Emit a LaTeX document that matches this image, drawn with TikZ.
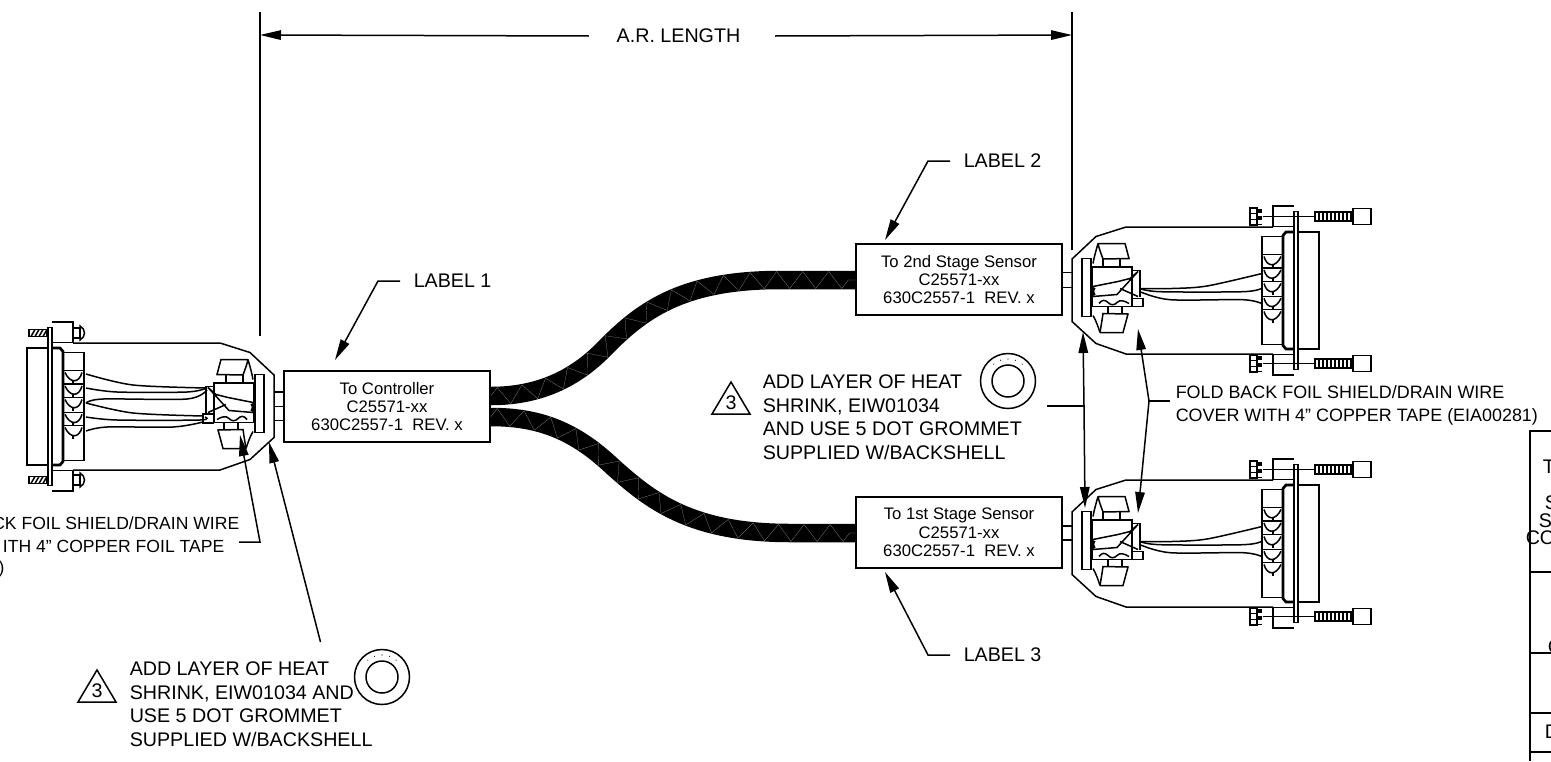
\documentclass[tikz,border=0pt]{standalone}
\usepackage{fontspec}
\setmainfont{Liberation Sans}
\usetikzlibrary{arrows.meta, decorations.pathmorphing}

\tikzset{
  note/.style={font=\fontsize{11.2}{13.4}\selectfont, inner sep=0pt, align=left},
  foldnote/.style={note, font=\fontsize{10.2}{13.4}\selectfont},
  cutnote/.style={note, font=\fontsize{10}{13.4}\selectfont},
  labelbox/.style={draw, fill=white, minimum width=4.12cm, minimum height=1.42cm, inner sep=0pt, align=center, font=\fontsize{9.5}{10.5}\selectfont},
  tip/.style={-{Stealth[length=0.42cm, width=0.19cm, inset=0pt]}},
  cable/.style={line width=0.37cm, postaction={draw=gray!70, line width=0.1pt, decorate, decoration={zigzag, segment length=0.52cm, amplitude=0.17cm}}},
}

\begin{document}
\begin{tikzpicture}[x=0.02cm, y=-0.02cm, line width=0.3mm]
\useasboundingbox (0,0) rectangle (1551,761);

% Cable labels
\node[labelbox] (ctrl) at (387,406.5) {To Controller\\C25571-xx\\630C2557-1\ \ REV. x};
\node[labelbox] (second) at (959,279.5) {To 2nd Stage Sensor\\C25571-xx\\630C2557-1\ \ REV. x};
\node[labelbox] (first) at (959,532.5) {To 1st Stage Sensor\\C25571-xx\\630C2557-1\ \ REV. x};

% Two jacketed cables from the controller label
\coordinate (topA) at (ctrl.east |- 0,396);
\coordinate (botA) at (ctrl.east |- 0,417);
\coordinate (topB) at (second.west |- 0,280);
\coordinate (botB) at (first.west |- 0,533);
\draw[cable] (topA) .. controls (540,396) and (575,378) .. (603,350) .. controls (640,312) and (680,280) .. (780,280) -- (topB);
\draw[cable] (botA) .. controls (540,417) and (575,431) .. (613,467) .. controls (650,500) and (690,533) .. (790,533) -- (botB);

% Parts common to the three backshells, x measured from the front face
\foreach \cx/\cy/\dir in {1072/290.5/1, 1072/543.5/1, 274/406.5/-1} {
\begin{scope}[shift={(\cx,\cy)}, xscale=\dir]
  % Housing and flange
  \draw (222,-64) -- (201,-64) -- (201,-84.5) -- (222,-84.5);
  \draw (222,64) -- (201,64) -- (201,84.5) -- (222,84.5);
  \draw (201,-63.5) -- (54,-63.5) -- (24,-54) -- (0,-31.5) -- (0,31) -- (24,53) -- (54,63.5) -- (201,63.5);
  \draw (222,-79) rectangle (226,79);
  \draw (226,-58.5) -- (247,-58.5) -- (247,58.5) -- (226,58.5);
  \draw[line width=0.55mm] (222,-58.5) -- (214,-58.5) -- (211,-55) -- (211,55) -- (214,58.5) -- (222,58.5);
  \draw (211,-54) -- (190,-54) -- (190,54) -- (211,54);
  % Pins
  \foreach \v in {-29,-15.5,-2,12.8,26} {
    \draw (190,\v-7) -- (211,\v-7);
    \draw (192,\v-5) .. controls (195,\v+6) and (204,\v+6) .. (209,\v-5);
    \draw (201,\v+3) -- (201,\v+6);
  }
  % Grommet plate, clamp and ears
  \draw (10,-32) rectangle (19,26);
  \draw (20,-23.5) rectangle (60,16);
  \draw (60,-20) -- (68,-20) -- (68,6);
  \draw (26,-47) -- (53,-47) -- (57,-32) -- (31,-31.5) .. controls (29,-37) and (27,-42) .. (26,-47);
  \draw (26,-47) .. controls (24,-40) and (22,-33) .. (21,-27);
  \draw (31,-31.5) -- (31,-23.5) (48,-31.5) -- (48,-23.5);
  \draw (28,42) -- (51,42) -- (56,23.5) -- (31,23) .. controls (30,30) and (29,36) .. (28,42);
  \draw (28,42) .. controls (26,36) and (24,30) .. (21,25);
  \draw (36,23) -- (36,16) (50,23) -- (50,16);
  % Foil shield fold
  \draw (21,-4) -- (46,-9) -- (58,-12) -- (66,-19) -- (45,4) -- (21,6);
  \draw (48,-2) -- (66,6);
  \draw[line width=0.7mm] (22,-3) .. controls (20,0) and (20,3) .. (22,5);
  \draw (27,13) .. controls (30,9) and (33,9) .. (36,12) .. controls (39,15) and (42,15) .. (45,12) .. controls (48,9) and (52,10) .. (57,13);
\end{scope}
}

% Wires, right hand connectors
\foreach \cy in {290.5, 543.5} {
\begin{scope}[shift={(1072,\cy)}]
  \draw plot[smooth] coordinates {(190,-17) (135,-4.5) (100,-2) (68,-2)};
  \draw plot[smooth] coordinates {(190,-2.2) (171,1.2) (88,1.2) (68,-2)};
  \draw plot[smooth] coordinates {(190,13.2) (171,9.2) (98,9.2) (68,1.2)};
  \draw (60,8) -- (71,8) -- (71,16) -- (60,16);
  % Cap screws
  \foreach \v in {-74,73} {
    \draw (178,\v-8.5) rectangle (185,\v+8.5);
    \draw (178,\v-3) -- (185,\v-3) (178,\v+3) -- (185,\v+3);
    \draw[line width=0.8mm, dotted] (188,\v-8) -- (188,\v+8);
    \draw[line width=0.2mm] (191,\v) -- (243,\v);
    \draw (243,\v-4.5) rectangle (281,\v+4.5);
    \draw (281,\v-8) rectangle (299,\v+8);
    \foreach \u in {247,251,...,279} {\draw (\u,\v-4.5) -- (\u,\v+4.5);}
  }
\end{scope}
}

% Wires, left hand connector
\draw plot[smooth] coordinates {(86,374) (133,385) (207,388)};
\draw plot[smooth] coordinates {(86,388) (117,392) (187,392) (207,388)};
\draw plot[smooth] coordinates {(86,403) (103,399) (187,399) (207,390)};
\draw plot[smooth] coordinates {(86,403) (133,413) (203,416)};
\draw plot[smooth] coordinates {(86,417) (117,420) (200,420) (205,417)};
\draw plot[smooth] coordinates {(86,431) (107,427) (173,427) (203,422)};
\draw (214,414) -- (203,414) -- (203,423) -- (214,423);

% Left hand jack screws
\foreach \v in {333,480} {
  \draw (29,\v-3.5) rectangle (47,\v+3.5);
  \foreach \u in {31,35,...,43} {\draw (\u,\v+3.5) -- (\u+4,\v-3.5);}
  \draw (73,\v-5) -- (80,\v-5) -- (80,\v+5) -- (73,\v+5);
  \draw (80,\v-7) .. controls (86,\v-4) and (86,\v+4) .. (80,\v+7) -- cycle;
}

% Ties between labels and backshells
\foreach \y in {392,406.5,420.5} {\draw (ctrl.west |- 0,\y) -- (274,\y);}
\foreach \y in {272.5,287.5} {\draw (second.east |- 0,\y) -- (1072,\y);}
\foreach \y in {526,540} {\draw (first.east |- 0,\y) -- (1072,\y);}

% Dimension
\coordinate (extLa) at (260,12);
\coordinate (extLb) at (260,336);
\coordinate (extRa) at (1072,12);
\coordinate (extRb) at (1072,250);
\coordinate (dimL) at (260,35);
\coordinate (dimR) at (1072,35);
\draw (extLa) -- (extLb);
\draw (extRa) -- (extRb);
\node[note, inner xsep=0.54cm] (arlen) at (678.5,36) {A.R. LENGTH};
\draw[tip] (arlen.west) -- (dimL);
\draw[tip] ([xshift=0.14cm]arlen.east) -- (dimR);

% Label callouts
\node[note, anchor=west] (labone) at (413,281) {LABEL 1};
\node[note, anchor=west] (labtwo) at (963,161) {LABEL 2};
\node[note, anchor=west] (labthree) at (963,655) {LABEL 3};
\coordinate (labonetip) at (335,360);
\coordinate (labtwotip) at (885,240);
\coordinate (labthreetip) at (885,572);
\draw[tip] ([xshift=-0.26cm]labone.west) -- (378,281) -- (labonetip);
\draw[tip] ([xshift=-0.26cm]labtwo.west) -- (928,161) -- (labtwotip);
\draw[tip] ([xshift=-0.26cm]labthree.west) -- (928,655) -- (labthreetip);

% Fold back notes
\node[foldnote, anchor=west] (foldright) at (1175,405.5) {FOLD BACK FOIL SHIELD/DRAIN WIRE\\COVER WITH 4" COPPER TAPE (EIA00281)};
\coordinate (foldjoin) at (1149,401);
\coordinate (foldstart) at (1170,401);
\coordinate (foldtipa) at (1138,329);
\coordinate (foldtipb) at (1138,513);
\draw (foldstart) -- (foldjoin);
\draw[tip] (foldjoin) -- (foldtipa);
\draw[tip] (foldjoin) -- (foldtipb);

\node[cutnote, anchor=east] (foldlefta) at (240,523) {CK FOIL SHIELD/DRAIN WIRE};
\node[cutnote, anchor=east] (foldleftb) at (225,546) {ITH 4" COPPER FOIL TAPE};
\node[cutnote, anchor=west] (foldleftc) at (-2,569) {)};
\coordinate (foldleftj) at (260,542);
\coordinate (foldleftstart) at (239,542);
\coordinate (foldlefttip) at (240,435);
\draw[tip] (foldleftstart) -- (foldleftj) -- (foldlefttip);

% Heat shrink notes, the triangle and grommet are repeated
\foreach \tx/\ty/\gx/\gy in {97/670/382/677, 731/382/1008/381} {
  \draw (\tx,\ty) -- (\tx-19,\ty+32) -- (\tx+19,\ty+32) -- cycle;
  \node[note] at (\tx,\ty+21) {3};
  \draw (\gx,\gy) circle (27.5);
  \draw (\gx,\gy) circle (16);
  \foreach \a in {-130,-110,-90,-70,-50} {
    \fill ([shift={(\a:22)}]\gx,\gy) circle (0.6);
  }
}
\node[note, anchor=north west] (heatleft) at (129,661) {ADD LAYER OF HEAT\\SHRINK, EIW01034 AND\\USE 5 DOT GROMMET\\SUPPLIED W/BACKSHELL};
\node[note, anchor=north west] (heatmid) at (762,374) {ADD LAYER OF HEAT\\SHRINK, EIW01034\\AND USE 5 DOT GROMMET\\SUPPLIED W/BACKSHELL};
\coordinate (heatleftend) at (320.5,642);
\coordinate (heatlefttip) at (269,442);
\draw[tip] (heatleftend) -- (heatlefttip);
\coordinate (heatjoin) at (1084,406);
\coordinate (heatstart) at (1047,406);
\coordinate (heattipa) at (1083,332);
\coordinate (heattipb) at (1085,508);
\draw (heatstart) -- (heatjoin);
\draw[tip] (heatjoin) -- (heattipa);
\draw[tip] (heatjoin) -- (heattipb);

% Edge of the table
\draw (1551,431) -- (1530,431) -- (1530,761);
\foreach \y in {572,653,713,752} {\draw (1530,\y) -- (1551,\y);}
\node[note, anchor=west] (tabt) at (1542,467) {T};
\node[note, anchor=west] (tabsa) at (1544,503) {S};
\node[note, anchor=west] (tabsb) at (1538,521) {S};
\node[note, anchor=west] (tabco) at (1525,538) {CO};
\node[note, anchor=west] (tabc) at (1547,647) {C};
\node[note, anchor=west] (tabd) at (1544,732) {D};

\end{tikzpicture}
\end{document}
